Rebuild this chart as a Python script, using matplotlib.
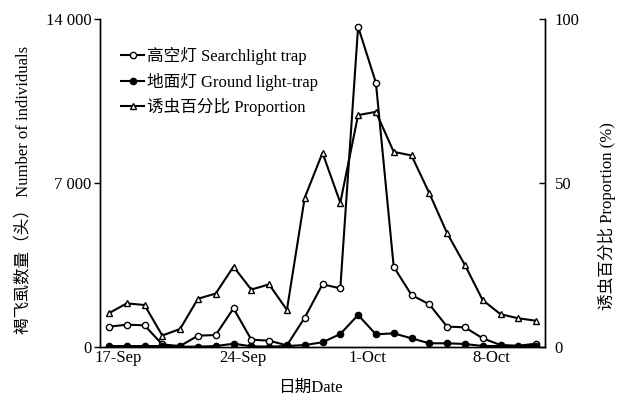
import matplotlib
matplotlib.use("Agg")
import matplotlib.pyplot as plt

plt.rcParams['font.family'] = ['Liberation Serif', 'Noto Sans CJK SC']
plt.rcParams['font.size'] = 12

dates = ['17-Sep', '18-Sep', '19-Sep', '20-Sep', '21-Sep', '22-Sep', '23-Sep',
         '24-Sep', '25-Sep', '26-Sep', '27-Sep', '28-Sep', '29-Sep', '30-Sep',
         '1-Oct', '2-Oct', '3-Oct', '4-Oct', '5-Oct', '6-Oct', '7-Oct',
         '8-Oct', '9-Oct', '10-Oct', '11-Oct']
searchlight = [866, 952, 926, 110, 40, 483, 512, 1650, 313, 270, 70, 1252, 2675,
               2505, 13670, 11280, 3427, 2219, 1822, 870, 840, 370, 85, 55, 140]
ground = [40, 40, 40, 40, 15, 15, 40, 140, 30, 15, 40, 85, 200, 555, 1366,
          540, 584, 370, 158, 158, 128, 43, 43, 15, 55]
proportion = [10.3, 13.3, 12.8, 3.5, 5.5, 14.7, 16.3, 24.5, 17.5, 19.1, 11.3,
              45.5, 59.2, 44.0, 70.7, 71.7, 59.5, 58.4, 46.9, 34.7, 25.0, 14.3,
              10.0, 8.75, 8.0]
tick_dates = ['17-Sep', '24-Sep', '1-Oct', '8-Oct']
left_ticks = [0, 7000, 14000]
left_labels = ['0', '7 000', '14 000']
right_ticks = [0, 50, 100]
labels = ['高空灯 Searchlight trap', '地面灯 Ground light-trap', '诱虫百分比 Proportion']

x = list(range(len(dates)))

fig = plt.figure(figsize=(6.24, 3.98), dpi=100)
ax = fig.add_axes([100/624, 1-347/398, 445/624, 328/398])
ax2 = ax.twinx()

lw = 1.5
l1, = ax.plot(x, searchlight, '-o', color='black', lw=lw, ms=4.5,
              mfc='white', mec='black', mew=1.0, zorder=3)
l2, = ax.plot(x, ground, '-o', color='black', lw=lw, ms=4.5,
              mfc='black', mec='black', mew=1.0, zorder=3)
l3, = ax2.plot(x, proportion, '-^', color='black', lw=lw, ms=5,
               mfc='white', mec='black', mew=1.0, zorder=3)

ax.set_xlim(-0.5, len(dates) - 0.5)
ax.set_ylim(0, 14000)
ax2.set_ylim(0, 100)

ax.set_yticks(left_ticks)
ax.set_yticklabels(left_labels)
ax.tick_params(axis='y', direction='out', length=4, width=1, pad=2)
ax2.set_yticks(right_ticks)
ax2.set_yticklabels([str(t) for t in right_ticks])
ax2.tick_params(axis='y', direction='in', length=4, width=1, pad=7)

ax.set_xticks([dates.index(d) + 0.5 for d in tick_dates])
ax.set_xticklabels(tick_dates)
ax.tick_params(axis='x', length=0, pad=2)

for a in (ax, ax2):
    a.spines['top'].set_visible(False)
    for s in ('left', 'right', 'bottom'):
        a.spines[s].set_linewidth(1.0)
        a.spines[s].set_color('black')

ax.set_ylabel('褐飞虱数量（头） Number of individuals')
ax.yaxis.set_label_coords(-0.155, 0.48)
ax2.set_ylabel('诱虫百分比 Proportion (%)')
ax2.yaxis.set_label_coords(1.12, 0.40)
ax.set_xlabel('日期Date')
ax.xaxis.set_label_coords(0.473, -0.1)

leg = ax.legend([l1, l2, l3], labels, loc='upper left',
                bbox_to_anchor=(0.047, 0.915), frameon=False, borderpad=0,
                borderaxespad=0, handlelength=1.4, handletextpad=0.15,
                labelspacing=0.45)

fig.savefig('out.png', dpi=100)
